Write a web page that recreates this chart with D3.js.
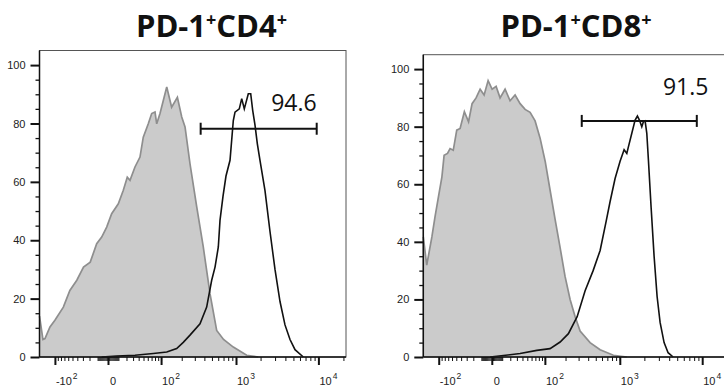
<!DOCTYPE html>
<html>
<head>
<meta charset="utf-8">
<script src="https://cdn.jsdelivr.net/npm/d3@7"></script>
<style>
  body { margin: 0; background: #fff; }
  svg { display: block; }
</style>
</head>
<body>
<svg id="chart" width="724" height="387"></svg>
<script>
// histogram values: [fluorescence, % of max]
const cd4Isotype = [[-169,14],[-151,6],[-141,6.3],[-119,10.3],[-100,12.6],[-73,17.1],[-56,22.8],[-41,26.3],[-29,30.8],[-19,32.5],[-11,38.8],[-5.7,41.1],[-1.1,44.5],[3.2,49.1],[9.9,52.5],[15.8,57.1],[21.1,61.6],[25.1,60.5],[33.2,65.1],[42.6,68.5],[49.5,75.3],[61.3,79.9],[70.3,83.4],[79.9,83.9],[85.2,79.9],[96.2,83.4],[122,92.5],[144,85.6],[174,89],[200,82.2],[222,78.8],[259,66.2],[318,51.4],[387,37.7],[472,21.7],[574,9.1],[700,6],[926,3.4],[1354,0.6],[1877,0]];
const cd4Pd1 = [[-5.7,0],[8.1,0.3],[33.2,0.6],[74.9,1.2],[122,1.7],[170,2.9],[210,5],[259,7.5],[351,11.4],[428,17.1],[496,26.3],[547,30.8],[602,37.7],[632,46.8],[689,55],[751,62],[843,67.4],[926,81],[972,83.9],[1098,85],[1176,88.5],[1265,85],[1417,90.2],[1516,90.2],[1603,84.5],[1711,79.4],[1825,73.1],[1968,67.4],[2264,57],[2604,43],[2994,30],[3443,19],[3957,11],[4548,6],[5226,2.5],[6580,0]];
const cd8Isotype = [[-169,41.7],[-151,31.9],[-127,41.7],[-114,48.7],[-101,55.6],[-89,62.6],[-82,70.1],[-72,70.7],[-65,72.4],[-57,71.8],[-49,78.8],[-42,79.4],[-34,85.2],[-27,81.7],[-21.7,88],[-16.3,90],[-11.4,93],[-7.1,91],[-3.2,96],[0.3,93],[3.8,94],[7.7,90],[13.3,93],[19.7,89],[27.1,91],[35.6,88],[45.3,86],[56.4,85],[69.2,82],[83.9,76],[101,68],[120,58],[142,48],[168,38],[197,28],[231,20],[270,14],[314,9],[423,5],[568,2.5],[833,0.6],[1220,0]];
const cd8Pd1 = [[-1.4,0],[35.6,1.2],[74,2.3],[120,2.9],[168,5.2],[219,8.1],[287,14],[365,23],[463,30],[568,37],[675,47],[758,54],[874,62],[1008,68],[1130,72],[1220,70.7],[1276,73],[1405,77.7],[1542,82.3],[1645,83.7],[1740,82.3],[1861,80],[1946,81.7],[2042,82],[2141,77.7],[2240,68.4],[2415,52],[2626,35],[2856,21],[3105,12],[3471,5],[3880,1.5],[4461,0]];

// gates [from, to] and the percentage inside
const cd4Gate = [358, 9540];
const cd8Gate = [330, 8610];
const gateLevels = [78.2, 82];
const gatePercents = ["94.6", "91.5"];

const titles = [["PD-1", "+", "CD4", "+"], ["PD-1", "+", "CD8", "+"]];

const xMajorTicks = [-100, 0, 100, 1000, 10000];
const xTickLabels = [["-10", "2"], ["0", ""], ["10", "2"], ["10", "3"], ["10", "4"]];
const yMajorTicks = [0, 20, 40, 60, 80, 100];

const xDomain = [-169, 21470];
const yDomain = [0, 105];

// minor ticks like a flow cytometry biex axis
const xMinorTicks = [];
d3.range(1, 10).forEach(i => {
  xMinorTicks.push(-i, i, -10 * i, 10 * i, 100 * i, 1000 * i);
});
xMinorTicks.push(20000);
const yMinorTicks = d3.range(0, 101, 5).filter(v => v % 20 !== 0);

const svg = d3.select("#chart");
svg.append("rect").attr("width", 724).attr("height", 387).attr("fill", "#fff");

const plotWidth = 306.5;

const panels = [
  { left: 39.5, top: 50.5, bottom: 357, isotype: cd4Isotype, pd1: cd4Pd1, gate: cd4Gate,
    titleX: 211.5, labelDx: 0, labelDy: -18 },
  { left: 423.3, top: 54.7, bottom: 357, isotype: cd8Isotype, pd1: cd8Pd1, gate: cd8Gate,
    titleX: 576, labelDx: 11.6, labelDy: -25.7 }
];

panels.forEach((p, i) => {
  const x = d3.scaleSymlog().constant(30).domain(xDomain).range([p.left, p.left + plotWidth]);
  const y = d3.scaleLinear().domain(yDomain).range([p.bottom, p.top]);
  const g = svg.append("g");

  // title
  const t = g.append("text")
    .attr("x", p.titleX).attr("y", 37)
    .attr("text-anchor", "middle")
    .attr("font-family", "'Open Sans', sans-serif")
    .attr("font-weight", "bold")
    .attr("font-size", 31)
    .attr("fill", "#111");
  titles[i].forEach((s, j) => {
    const sup = j % 2 === 1;
    t.append("tspan")
      .attr("font-size", sup ? 18 : 31)
      .attr("dy", sup ? -11 : (j > 0 ? 11 : 0))
      .text(s);
  });

  // histograms
  const area = d3.area().x(d => x(d[0])).y0(y(0)).y1(d => y(d[1]));
  const line = d3.line().x(d => x(d[0])).y(d => y(d[1]));
  g.append("path").datum(p.isotype).attr("d", area).attr("fill", "#cbcbcb");
  g.append("path").datum(p.isotype).attr("d", line)
    .attr("fill", "none").attr("stroke", "#8e8e8e").attr("stroke-width", 1.7);
  g.append("path").datum(p.pd1).attr("d", line)
    .attr("fill", "none").attr("stroke", "#111").attr("stroke-width", 1.6);

  // frame
  g.append("rect")
    .attr("x", p.left).attr("y", p.top)
    .attr("width", plotWidth).attr("height", p.bottom - p.top)
    .attr("fill", "none").attr("stroke", "#555").attr("stroke-width", 1);

  // y axis
  const yMajor = g.append("g").attr("transform", `translate(${p.left},0)`)
    .call(d3.axisLeft(y).tickValues(yMajorTicks).tickSize(9).tickPadding(5));
  yMajor.select(".domain").attr("d", `M0,${p.top}V${p.bottom}`).attr("stroke", "#111").attr("stroke-width", 1.5);
  yMajor.selectAll("line").attr("stroke", "#111").attr("stroke-width", 2);
  yMajor.selectAll("text").attr("font-family", "'Liberation Sans', Arial, sans-serif")
    .attr("font-size", 11).attr("fill", "#222");
  const yMinor = g.append("g").attr("transform", `translate(${p.left},0)`)
    .call(d3.axisLeft(y).tickValues(yMinorTicks).tickSize(4).tickFormat(""));
  yMinor.select(".domain").remove();
  yMinor.selectAll("line").attr("stroke", "#111").attr("stroke-width", 1.3);

  // x axis
  const xMajor = g.append("g").attr("transform", `translate(0,${p.bottom})`)
    .call(d3.axisBottom(x).tickValues(xMajorTicks).tickSize(8).tickFormat(""));
  xMajor.select(".domain").attr("d", `M${p.left},0H${p.left + plotWidth}`).attr("stroke", "#111").attr("stroke-width", 1.5);
  xMajor.selectAll("line").attr("stroke", "#111").attr("stroke-width", 2);
  const xMinor = g.append("g").attr("transform", `translate(0,${p.bottom})`)
    .call(d3.axisBottom(x).tickValues(xMinorTicks.filter(v => v >= xDomain[0] && v <= xDomain[1])).tickSize(4).tickFormat(""));
  xMinor.select(".domain").remove();
  xMinor.selectAll("line").attr("stroke", "#111").attr("stroke-width", 1);

  const labels = g.append("g")
    .attr("font-family", "'Liberation Sans', Arial, sans-serif")
    .attr("fill", "#222");
  xMajorTicks.forEach((v, j) => {
    const lt = labels.append("text")
      .attr("x", x(v) + (v === 0 ? 2 : 1))
      .attr("y", p.bottom + 28)
      .attr("font-size", 11);
    lt.append("tspan").text(xTickLabels[j][0]);
    if (xTickLabels[j][1]) {
      lt.append("tspan").attr("font-size", 8.5).attr("dy", -6).attr("dx", 1).text(xTickLabels[j][1]);
    }
  });

  // gate
  const gy = y(gateLevels[i]);
  const gate = g.append("g").attr("stroke", "#111").attr("stroke-width", 2);
  gate.append("line").attr("x1", x(p.gate[0])).attr("x2", x(p.gate[1])).attr("y1", gy).attr("y2", gy);
  p.gate.forEach(v => {
    gate.append("line").attr("x1", x(v)).attr("x2", x(v)).attr("y1", gy - 6).attr("y2", gy + 6);
  });
  g.append("text")
    .attr("x", x(p.gate[1]) + p.labelDx)
    .attr("y", gy + p.labelDy)
    .attr("text-anchor", "end")
    .attr("font-family", "'Open Sans', sans-serif")
    .attr("font-size", 23)
    .attr("fill", "#111")
    .text(gatePercents[i]);
});
</script>
</body>
</html>
